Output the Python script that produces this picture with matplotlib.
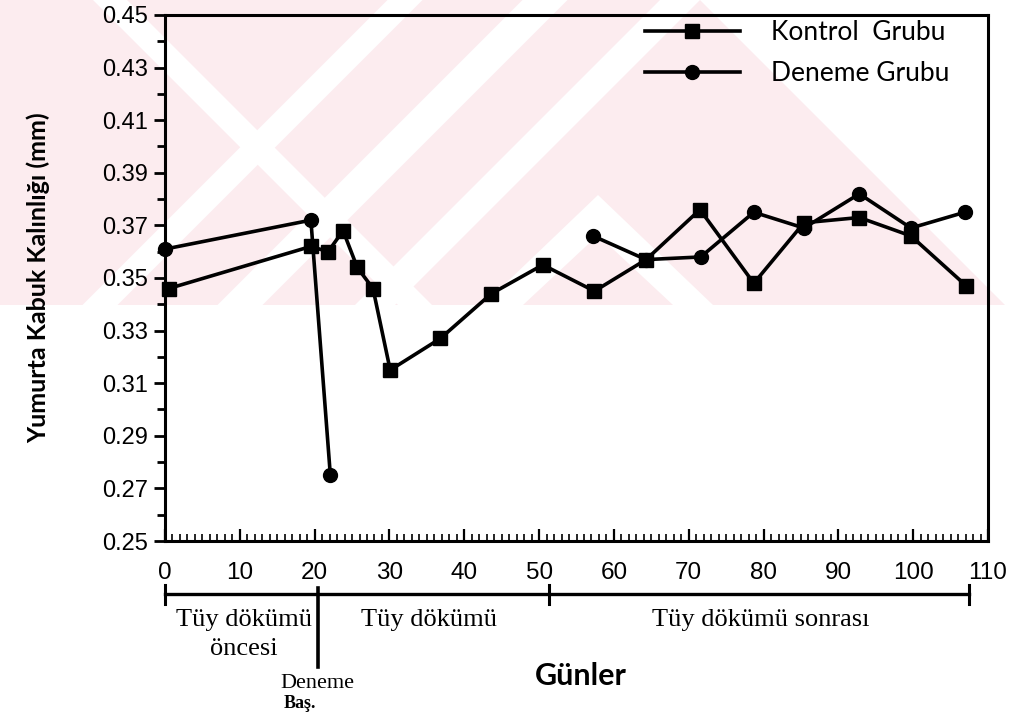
import numpy as np
import matplotlib
matplotlib.use("Agg")
import matplotlib.pyplot as plt
from matplotlib.ticker import MultipleLocator, FixedLocator, FormatStrFormatter
from matplotlib.patches import Rectangle, Polygon
from matplotlib.lines import Line2D

# Kontrol Grubu (kare)
kontrol_gun = [0.5, 19.5, 21.8, 23.8, 25.7, 27.8, 30.1, 36.8, 43.6, 50.5,
               57.4, 64.3, 71.5, 78.7, 85.4, 92.8, 99.7, 107.1]
kontrol_kalinlik = [0.346, 0.362, 0.360, 0.368, 0.354, 0.346, 0.315, 0.327, 0.344, 0.355,
                    0.345, 0.357, 0.376, 0.348, 0.371, 0.373, 0.366, 0.347]

# Deneme Grubu (daire) - 22. ile 57. gun arasinda veri yok
deneme_gun = [0.0, 19.5, 22.1, np.nan, 57.2, 64.3, 71.6, 78.7, 85.4, 92.8, 99.7, 106.9]
deneme_kalinlik = [0.361, 0.372, 0.275, np.nan, 0.366, 0.357, 0.358, 0.375, 0.369, 0.382, 0.369, 0.375]

y_ticks = [0.25, 0.27, 0.29, 0.31, 0.33, 0.35, 0.37, 0.39, 0.41, 0.43, 0.45]

# donem sinirlari (gun) ve adlari
faz_sinir = [0, 20.4, 51.3, 107.4]
faz_adi = ["Tüy dökümü", "Tüy dökümü", "Tüy dökümü sonrası"]

W, H = 1022, 718
fig = plt.figure(figsize=(W / 100, H / 100), dpi=100)


def fpt(px, py):
    # image pixel -> figure fraction
    return px / W, 1 - py / H


def white(pts):
    fig.add_artist(Polygon([fpt(*p) for p in pts], closed=True, transform=fig.transFigure,
                           facecolor="white", edgecolor="none", zorder=-9))


# soluk pembe filigran
band = 305
fig.add_artist(Rectangle(fpt(0, band), 1, band / H, transform=fig.transFigure,
                         facecolor="#fcecef", edgecolor="none", zorder=-10))
for c, w in [(405, 35), (545, 45), (680, 40)]:
    white([(c - w / 2, 0), (c + w / 2, 0), (c + w / 2 - band, band), (c - w / 2 - band, band)])
white([(110 - 17, 0), (110 + 17, 0), (127 + band, band), (93 + band, band)])
# chevron
white([(598, 195), (598, 235), (693 - 20, band), (693 + 20, band)])
white([(598, 195), (598, 235), (503 + 20, band), (503 - 20, band)])
white([(700, 0), (W, 0), (W, band), (700 + band, band)])

ax = fig.add_axes([165 / W, (H - 541) / H, 823 / W, 526 / H])
ax.set_facecolor("none")

ax.plot(kontrol_gun, kontrol_kalinlik, color="black", lw=2.6, marker="s", ms=10,
        label="Kontrol  Grubu", clip_on=False)
ax.plot(deneme_gun, deneme_kalinlik, color="black", lw=2.6, marker="o", ms=10,
        label="Deneme Grubu", clip_on=False)

ax.set_xlim(0, 110)
ax.set_ylim(0.25, 0.45)
ax.xaxis.set_major_locator(MultipleLocator(10))
ax.xaxis.set_minor_locator(MultipleLocator(1))
ax.yaxis.set_major_locator(FixedLocator(y_ticks))
ax.yaxis.set_minor_locator(MultipleLocator(0.02))
ax.yaxis.set_major_formatter(FormatStrFormatter("%.2f"))

for s in ax.spines.values():
    s.set_linewidth(2.2)

ax.tick_params(axis="y", which="major", direction="out", length=8, width=2,
               labelsize=17, pad=4)
ax.tick_params(axis="y", which="minor", direction="out", length=6, width=2)
ax.tick_params(axis="x", which="major", direction="in", length=9, width=1.6,
               labelsize=17.5, pad=15)
ax.tick_params(axis="x", which="minor", direction="in", length=5, width=1.2)
for lab in ax.get_xticklabels() + ax.get_yticklabels():
    lab.set_family("Liberation Sans")

ax.set_ylabel("Yumurta Kabuk Kalınlığı (mm)", fontsize=18, fontweight="bold",
              family="Lato")
ax.yaxis.set_label_coords(-0.14, 0.5)

leg = ax.legend(loc="upper left", bbox_to_anchor=(0.583, 0.99), frameon=False,
                handlelength=3.6, handletextpad=1.2, borderpad=0, borderaxespad=0,
                labelspacing=0.6, prop={"family": "Lato", "size": 19})

# alt taraftaki donem cizelgesi
tr = ax.get_xaxis_transform()


def ay(py):
    return (541 - py) / 526


ax.add_line(Line2D([faz_sinir[0], faz_sinir[-1]], [ay(594), ay(594)], transform=tr,
                   color="black", lw=2.4, clip_on=False))
for g in [faz_sinir[0], faz_sinir[2], faz_sinir[3]]:
    ax.add_line(Line2D([g, g], [ay(585), ay(604)], transform=tr, color="black",
                       lw=2.2, clip_on=False))
ax.add_line(Line2D([faz_sinir[1], faz_sinir[1]], [ay(588), ay(667)], transform=tr,
                   color="black", lw=2.6, clip_on=False))

serif = "Liberation Serif"
ax.text(10.5, ay(620), faz_adi[0], transform=tr, ha="center", va="center",
        fontsize=19, family=serif)
ax.text(10.5, ay(649), "öncesi", transform=tr, ha="center", va="center",
        fontsize=19, family=serif)
ax.text(35.3, ay(620), faz_adi[1], transform=tr, ha="center", va="center",
        fontsize=19, family=serif)
ax.text(79.6, ay(620), faz_adi[2], transform=tr, ha="center", va="center",
        fontsize=19, family=serif)
ax.text(15.4, ay(684), "Deneme", transform=tr, ha="left", va="center",
        fontsize=16, family=serif)
ax.text(15.9, ay(703), "Baş.", transform=tr, ha="left", va="center",
        fontsize=13, family=serif, fontweight="bold")
ax.text(55.6, ay(676), "Günler", transform=tr, ha="center", va="center",
        fontsize=22, family="Lato", fontweight="bold")

fig.savefig("out.png", dpi=100)
